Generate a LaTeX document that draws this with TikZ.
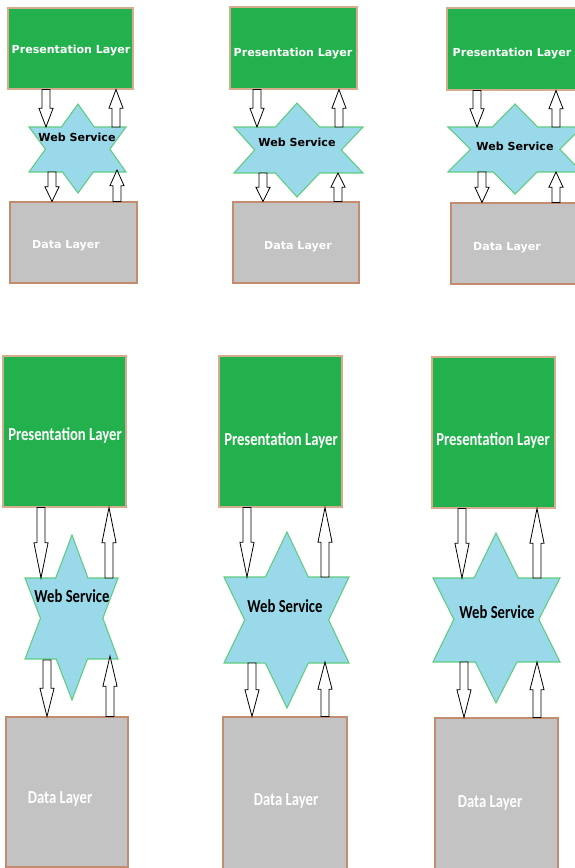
\documentclass[tikz,border=0pt]{standalone}
\usepackage{fontspec}
\usepackage{graphicx}
\usetikzlibrary{fit,calc}

\newfontfamily\fuenteA{DejaVu Sans}
\newfontfamily\fuenteB{Carlito}

\definecolor{verdecapa}{RGB}{34,177,76}
\definecolor{bordecapa}{RGB}{214,172,142}
\definecolor{grisdatos}{RGB}{195,195,195}
\definecolor{bordedatos}{RGB}{196,140,110}
\definecolor{celeste}{RGB}{153,217,234}
\definecolor{bordeestrella}{RGB}{96,204,128}

\tikzset{
	capa/.style={draw=bordecapa, line width=0.8pt, inner sep=0pt},
	presentacion/.style={capa, fill=verdecapa},
	datos/.style={capa, draw=bordedatos, fill=grisdatos},
	estrella/.style={draw=bordeestrella, fill=celeste, line width=0.8pt},
	flecha/.style={draw=black, fill=white, line width=0.6pt},
	textoA/.style={font=\fuenteA\bfseries\fontsize{8.3}{10}\selectfont, inner sep=0pt},
	textoB/.style={font=\fuenteB\bfseries\fontsize{11}{13}\selectfont, inner sep=0pt}
}

% texto alargado en vertical
\newcommand{\alto}[1]{\scalebox{1}[1.25]{#1}}

% estrella de seis puntas: nombre, cx, punta sup., x izq., x der., y sup., y inf., punta inf.
\newcommand{\estrella}[8]{%
	\coordinate (#1t) at (#2,#3);
	\coordinate (#1b) at (#2,#8);
	\coordinate (#1ul) at (#4,#6);
	\coordinate (#1ur) at (#5,#6);
	\coordinate (#1ll) at (#4,#7);
	\coordinate (#1lr) at (#5,#7);
	\draw[estrella] (#1t) -- (intersection of #1t--#1lr and #1ul--#1ur) -- (#1ur)
		-- (intersection of #1ur--#1b and #1t--#1lr) -- (#1lr)
		-- (intersection of #1lr--#1ll and #1ur--#1b) -- (#1b)
		-- (intersection of #1b--#1ul and #1ll--#1lr) -- (#1ll)
		-- (intersection of #1ll--#1t and #1b--#1ul) -- (#1ul)
		-- (intersection of #1ul--#1ur and #1ll--#1t) -- cycle;}

% flecha hueca vertical de #1 a #2
\newcommand{\flecha}[2]{%
	\draw[flecha] let \p1=(#1), \p2=(#2), \n1={\y2-\y1} in
		(\x1-3pt,\y1) -- (\x1-3pt,{\y1+0.5*\n1}) -- (\x1-5.3pt,{\y1+0.5*\n1}) -- (\x1,\y2)
		-- (\x1+5.3pt,{\y1+0.5*\n1}) -- (\x1+3pt,{\y1+0.5*\n1}) -- (\x1+3pt,\y1) -- cycle;}

\begin{document}
\begin{tikzpicture}[x=0.75pt, y=-0.75pt]
	\clip (0,0) rectangle (575,868);
	% Fila de arriba
		% Caso 1
			\node[presentacion, fit={(8,8) (133,89)}] (pres1) {};
			\node[datos, fit={(10,202) (137,283)}] (datos1) {};
			\estrella{ws1}{78}{104}{29}{126}{127}{172}{193}
			\node[textoA, white] (pres1t) at (71,50) {Presentation Layer};
			\node[textoA] (ws1x) at (77,137) {Web Service};
			\node[textoA, white] (datos1t) at (66,246) {Data Layer};
			\coordinate (ws1e) at (46,127);
			\coordinate (ws1s) at (116,127);
			\coordinate (ws1d) at (52,172);
			\coordinate (ws1r) at (117,170);
			\flecha{pres1.south -| ws1e}{ws1e}
			\flecha{ws1s}{pres1.south -| ws1s}
			\flecha{ws1d}{datos1.north -| ws1d}
			\flecha{datos1.north -| ws1r}{ws1r}

		% Caso 2
			\node[presentacion, fit={(230,7) (357,89)}] (pres2) {};
			\node[datos, fit={(233,202) (359,283)}] (datos2) {};
			\estrella{ws2}{297}{103}{234}{363}{127}{173}{197}
			\node[textoA, white] (pres2t) at (293,53) {Presentation Layer};
			\node[textoA] (ws2x) at (297,142) {Web Service};
			\node[textoA, white] (datos2t) at (298,247) {Data Layer};
			\coordinate (ws2e) at (257,127);
			\coordinate (ws2s) at (339,127);
			\coordinate (ws2d) at (263,173);
			\coordinate (ws2r) at (338,173);
			\flecha{pres2.south -| ws2e}{ws2e}
			\flecha{ws2s}{pres2.south -| ws2s}
			\flecha{ws2d}{datos2.north -| ws2d}
			\flecha{datos2.north -| ws2r}{ws2r}

		% Caso 3
			\node[presentacion, fit={(447,8) (578,90)}] (pres3) {};
			\node[datos, fit={(451,203) (578,284)}] (datos3) {};
			\estrella{ws3}{515}{104}{448}{582}{127}{172}{194}
			\node[textoA, white] (pres3t) at (512,53) {Presentation Layer};
			\node[textoA] (ws3x) at (515,146) {Web Service};
			\node[textoA, white] (datos3t) at (507,248) {Data Layer};
			\coordinate (ws3e) at (477,127);
			\coordinate (ws3s) at (556,127);
			\coordinate (ws3d) at (482,172);
			\coordinate (ws3r) at (556,172);
			\flecha{pres3.south -| ws3e}{ws3e}
			\flecha{ws3s}{pres3.south -| ws3s}
			\flecha{ws3d}{datos3.north -| ws3d}
			\flecha{datos3.north -| ws3r}{ws3r}

	% Fila de abajo
		% Caso 4
			\node[presentacion, fit={(3,356) (126,507)}] (pres4) {};
			\node[datos, fit={(6,717) (128,867)}] (datos4) {};
			\estrella{ws4}{72}{535}{25}{118}{578}{659}{700}
			\node[textoB, white] (pres4t) at (65,435) {\alto{Presentation Layer}};
			\node[textoB] (ws4x) at (72,596) {\alto{Web Service}};
			\node[textoB, white] (datos4t) at (60,799) {\alto{Data Layer}};
			\coordinate (ws4e) at (41,578);
			\coordinate (ws4s) at (109,578);
			\coordinate (ws4d) at (47,660);
			\coordinate (ws4r) at (110,656);
			\flecha{pres4.south -| ws4e}{ws4e}
			\flecha{ws4s}{pres4.south -| ws4s}
			\flecha{ws4d}{datos4.north -| ws4d}
			\flecha{datos4.north -| ws4r}{ws4r}

		% Caso 5
			\node[presentacion, fit={(219,356) (342,507)}] (pres5) {};
			\node[datos, fit={(223,717) (347,870)}] (datos5) {};
			\estrella{ws5}{287}{532}{224}{349}{577}{663}{708}
			\node[textoB, white] (pres5t) at (281,440) {\alto{Presentation Layer}};
			\node[textoB] (ws5x) at (285,606) {\alto{Web Service}};
			\node[textoB, white] (datos5t) at (286,801) {\alto{Data Layer}};
			\coordinate (ws5e) at (247,577);
			\coordinate (ws5s) at (325,577);
			\coordinate (ws5d) at (252,663);
			\coordinate (ws5r) at (325,662);
			\flecha{pres5.south -| ws5e}{ws5e}
			\flecha{ws5s}{pres5.south -| ws5s}
			\flecha{ws5d}{datos5.north -| ws5d}
			\flecha{datos5.north -| ws5r}{ws5r}

		% Caso 6
			\node[presentacion, fit={(432,357) (555,508)}] (pres6) {};
			\node[datos, fit={(435,718) (558,870)}] (datos6) {};
			\estrella{ws6}{496}{533}{433}{560}{578}{662}{703}
			\node[textoB, white] (pres6t) at (493,440) {\alto{Presentation Layer}};
			\node[textoB] (ws6x) at (497,612) {\alto{Web Service}};
			\node[textoB, white] (datos6t) at (490,803) {\alto{Data Layer}};
			\coordinate (ws6e) at (462,578);
			\coordinate (ws6s) at (537,578);
			\coordinate (ws6d) at (464,662);
			\coordinate (ws6r) at (537,662);
			\flecha{pres6.south -| ws6e}{ws6e}
			\flecha{ws6s}{pres6.south -| ws6s}
			\flecha{ws6d}{datos6.north -| ws6d}
			\flecha{datos6.north -| ws6r}{ws6r}
\end{tikzpicture}
\end{document}
